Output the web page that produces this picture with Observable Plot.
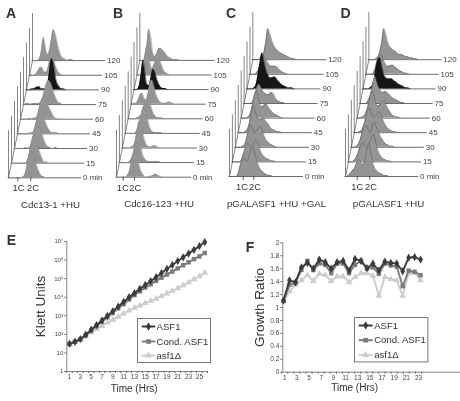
<!DOCTYPE html>
<html><head><meta charset="utf-8">
<script src="https://cdn.jsdelivr.net/npm/d3@7"></script>
<script src="https://cdn.jsdelivr.net/npm/@observablehq/plot@0.6"></script>
<style>
html,body{margin:0;padding:0;background:#fff}
#page{position:relative;width:460px;height:401px;overflow:hidden;filter:blur(.45px)}
#page svg{position:absolute;background:transparent;overflow:visible;max-width:none}
</style></head><body><div id="page"></div>
<script>
const FONT = '"Liberation Sans", Arial, sans-serif';
const times = ["0 min","15","30","45","60","75","90","105","120"];
const blackTrace = 6;

// Flow cytometry histograms: counts per DNA-content bin, time 0 first
const histA = [
 [0,0,0,0,0,0,0,1,5,15,24,27,24,17,10,5,2,1],
 [0,0,0,0,0,0,0,1,6,16,25,29,24,15,9,4,1,1],
 [0,0,0,0,0,1,0,1,5,13,20,22,21,16,10,5,2,1,0,0,1],
 [0,0,0,0,0,0,1,1,5,13,20,23,20,15,9,5,2,1,1,1],
 [0,0,0,0,1,0,1,1,4,12,19,22,20,15,11,7,3,1],
 [0,1,1,0,1,1,1,1,2,6,14,21,24,22,17,10,5,2,1],
 [0,0,1,1,2,3,3,1,1,1,5,18,31,27,13,6,3,1,1],
 [1,0,0,2,5,8,7,3,3,9,17,17,12,7,3,1],
 [0,0,0,2,10,23,14,6,10,22,31,26,17,9,4,2,1,0,1,1]
];
const histB = [
 [0,0,0,0,0,2,6,16,24,27,20,11,5,2,0,0,1,1,2,3,2,1],
 [0,0,0,0,0,2,6,15,26,28,19,9,4,2,1,1,1,1,1,1],
 [0,0,0,0,1,2,7,19,27,23,13,6,2,1,1,2,2,1],
 [0,0,0,0,0,2,6,14,23,28,21,12,5,2,1,1,1,1],
 [0,0,0,0,1,2,4,10,16,20,18,12,6,3,1,1,1],
 [0,1,1,4,9,11,6,4,11,21,24,18,10,5,2,1,1,1,2,2,1],
 [0,0,3,14,29,17,5,4,12,20,17,10,5,2,1,1],
 [0,0,1,11,26,30,13,6,10,15,17,14,9,4,2,1],
 [0,0,3,15,31,23,8,4,7,12,12,10,8,5,3,2,1,1,1]
];
const histC = [
 [0,0,0,0,4,12,17,19,15,18,26,29,24,17,11,7,5,3,2,1,1],
 [0,0,0,0,2,8,14,19,17,14,18,22,20,14,9,6,4,3,2,1,1],
 [0,0,0,1,2,8,16,23,19,14,16,19,20,17,11,7,5,3,2,1],
 [0,0,0,1,3,9,19,27,21,15,13,13,15,12,10,7,4,3,2,1,1],
 [0,0,0,1,4,12,22,27,20,13,11,13,14,11,8,6,4,3,2,1],
 [0,0,0,0,3,10,16,19,16,12,10,9,9,11,10,6,3,2,1,1],
 [0,0,0,1,4,14,26,36,28,19,14,11,11,12,11,8,6,4,3,2,1,1,1],
 [0,0,0,2,6,14,19,17,13,10,8,8,8,7,5,3,2,1],
 [0,0,0,1,3,7,18,31,26,19,14,11,9,7,6,5,4,3,2,1,1]
];
const histD = [
 [0,1,3,6,8,13,17,15,12,14,25,33,25,15,9,6,4,3,2,1,1],
 [0,0,1,3,7,13,18,20,16,14,19,25,27,21,13,8,5,3,2,1,1],
 [0,0,1,3,8,15,20,22,17,15,22,25,20,16,11,8,5,3,2,1,1],
 [0,0,1,2,6,13,21,25,19,15,17,19,21,17,12,8,5,3,2,1,1],
 [0,0,1,2,6,13,22,27,21,14,12,14,16,17,13,9,6,3,2,1,1],
 [0,0,0,1,5,11,21,27,21,15,12,11,12,11,9,7,5,4,3,2,1,1],
 [0,0,0,1,3,9,20,29,31,22,14,11,10,10,10,8,7,5,4,3,2,1,1],
 [0,0,0,1,5,13,18,20,15,11,8,8,9,9,7,6,4,3,2,1,1],
 [0,0,0,1,3,8,18,31,25,17,13,11,9,8,6,5,5,4,3,3,2,2,1,1]
];

const hoursE = [1,2,3,4,5,6,7,8,9,10,11,12,13,14,15,16,17,18,19,20,21,22,23,24,25,26];
const logKlettASF1 = [1.5,1.6,1.75,1.98,2.25,2.5,2.75,3.0,3.25,3.5,3.75,4.0,4.22,4.45,4.66,4.87,5.08,5.3,5.52,5.73,5.95,6.15,6.35,6.55,6.75,6.97];
const logKlettCond = [1.48,1.6,1.72,1.95,2.2,2.45,2.68,2.92,3.15,3.4,3.63,3.88,4.12,4.32,4.52,4.7,4.88,5.05,5.22,5.38,5.55,5.72,5.88,6.05,6.2,6.38];
const logKlettDel = [1.45,1.58,1.7,1.9,2.1,2.27,2.45,2.62,2.78,2.95,3.12,3.28,3.42,3.55,3.68,3.8,3.92,4.06,4.2,4.34,4.48,4.64,4.8,4.96,5.12,5.32];

const hoursF = [0.8,1.78,2.76,3.74,4.72,5.7,6.68,7.66,8.64,9.62,10.6,11.58,12.56,13.54,14.52,15.5,16.48,17.46,18.44,19.42,20.4,21.38,22.36,23.34];
const ratioASF1 = [1.11,1.42,1.39,1.62,1.69,1.6,1.74,1.7,1.6,1.7,1.72,1.57,1.75,1.72,1.61,1.68,1.57,1.71,1.69,1.68,1.56,1.77,1.78,1.74];
const ratioCond = [1.1,1.35,1.38,1.58,1.72,1.58,1.68,1.66,1.53,1.68,1.68,1.53,1.66,1.72,1.6,1.62,1.52,1.68,1.65,1.63,1.33,1.57,1.55,1.5];
const ratioDel = [1.1,1.25,1.35,1.42,1.5,1.41,1.52,1.5,1.41,1.48,1.48,1.39,1.47,1.53,1.53,1.49,1.18,1.47,1.44,1.42,1.18,1.53,1.54,1.42];

const seriesNames = ["ASF1","Cond. ASF1","asf1\u0394"];
const seriesColors = ["#3c3c3c","#7c7c7c","#cdcdcd"];
const seriesSymbols = ["diamond","square","triangle"];

const page = document.getElementById("page");
function place(svg,left,top){svg.style.left=left+"px";svg.style.top=top+"px";page.appendChild(svg);}

function histPanel(cfg){
  const W=130,H=215,L=8;
  const marks=[];
  const pts=cfg.data.map((_,i)=>({x:i*cfg.dx,y:i*cfg.step}));
  marks.push(Plot.line(pts,{x:"x",y:"y",stroke:"#555",strokeWidth:.7}));
  for(let i=cfg.data.length-1;i>=0;i--){
    const xo=i*cfg.dx,yo=i*cfg.step;
    const rows=[0,...cfg.data[i],0].map((v,b)=>({x:xo+(b-0.5)*2,base:yo,top:yo+v}));
    const dark=i===blackTrace;
    marks.push(Plot.ruleX([xo],{y1:yo,y2:yo+47,stroke:"#666",strokeWidth:.8}));
    marks.push(Plot.ruleY([yo],{x1:xo,x2:xo+cfg.len,stroke:"#444",strokeWidth:.8}));
    marks.push(Plot.areaY(rows,{x:"x",y1:"base",y2:"top",fill:dark?"#161616":"#949494",curve:"monotone-x"}));
    marks.push(Plot.lineY(rows,{x:"x",y:"top",stroke:dark?"#111":cfg.outline,strokeWidth:.5,curve:"monotone-x"}));
    marks.push(Plot.text([times[i]],{x:xo+cfg.len+1.5,y:yo,text:d=>d,textAnchor:"start",fontSize:8,fill:"#444"}));
  }
  marks.push(Plot.ruleX(cfg.cTicks,{y1:-4,y2:0,stroke:"#333",strokeWidth:.8}));
  marks.push(Plot.text(["1C","2C"],{x:cfg.cLabels,y:-10.5,text:d=>d,fontSize:9.3,fill:"#333"}));
  marks.push(Plot.text([cfg.title],{x:cfg.titleX,y:-27,text:d=>d,fontSize:9.7,fill:"#333"}));
  marks.push(Plot.text([cfg.letter],{x:cfg.letterX,y:cfg.base-13,text:d=>d,fontSize:14,fontWeight:"bold",fill:"#333",textAnchor:"start"}));
  const svg=Plot.plot({width:W,height:H,margin:0,
    x:{axis:null,domain:[-L,W-L],range:[0,W]},
    y:{axis:null,domain:[cfg.base-H,cfg.base],range:[H,0]},
    style:{fontFamily:FONT,background:"transparent"},marks});
  place(svg,cfg.x0-L,0);
}
histPanel({data:histA,x0:8,base:177.3,step:14.65,dx:3,len:73,cTicks:[9.3,22.3],cLabels:[10,24.5],title:"Cdc13-1 +HU",titleX:42,letter:"A",letterX:-2.5,outline:"#8a8a8a"});
histPanel({data:histB,x0:116.3,base:176.7,step:14.6,dx:2.92,len:75,cTicks:[6.7,18],cLabels:[6.2,18.8],title:"Cdc16-123 +HU",titleX:42.5,letter:"B",letterX:-3.5,outline:"#8a8a8a"});
histPanel({data:histC,x0:229,base:176,step:14.6,dx:2.92,len:74,cTicks:[13.7,24.3],cLabels:[12.5,25.5],title:"pGALASF1 +HU +GAL",titleX:47,letter:"C",letterX:-3.5,outline:"#555"});
histPanel({data:histD,x0:345,base:176,step:14.6,dx:2.92,len:73,cTicks:[11.7,24.3],cLabels:[11.7,25.5],title:"pGALASF1 +HU",titleX:43,letter:"D",letterX:-5,outline:"#555"});

function seriesMarks(xs,ysList,yf){
  const m=[];
  ysList.forEach((ys,s)=>{
    const rows=ys.map((v,i)=>({x:xs[i],y:yf(v)}));
    m.unshift(Plot.line(rows,{x:"x",y:"y",stroke:seriesColors[s],strokeWidth:1.9}),
              Plot.dot(rows,{x:"x",y:"y",fill:seriesColors[s],symbol:seriesSymbols[s],r:2.5}));
  });
  return m;
}
function legend(left,top,w,h,lineX,textX,rowY){
  const rows=seriesNames.map((n,i)=>({n,i}));
  const svg=Plot.plot({width:w,height:h,margin:0,
    x:{axis:null,domain:[0,w],range:[0,w]},
    y:{axis:null,domain:[0,h],range:[0,h]},
    style:{fontFamily:FONT,background:"transparent"},
    marks:[
      Plot.frame({fill:"#fff",stroke:"#777",strokeWidth:1}),
      ...rows.map(r=>Plot.line([[lineX[0],rowY[r.i]],[lineX[1],rowY[r.i]]],{stroke:seriesColors[r.i],strokeWidth:1.9})),
      ...rows.map(r=>Plot.dot([[(lineX[0]+lineX[1])/2,rowY[r.i]]],{fill:seriesColors[r.i],symbol:seriesSymbols[r.i],r:2.6})),
      Plot.text(rows,{x:textX,y:r=>rowY[r.i],text:"n",textAnchor:"start",fontSize:9.6,fill:"#333"})
    ]});
  place(svg,left,top);
}

// E
{
  const odd=hoursE.filter(h=>h%2===1);
  const edges=[...hoursE.map(h=>h-.5),26.5];
  const yTicks=[1,1e1,1e2,1e3,1e4,1e5,1e6,1e7];
  const labs={1:"1",10:"10",100:"10\u00b2",1000:"10\u00b3",1e4:"10\u2074",1e5:"10\u2075",1e6:"10\u2076",1e7:"10\u2077"};
  const svg=Plot.plot({width:230,height:176,marginLeft:66.3,marginRight:23,marginTop:16,marginBottom:30,
    x:{domain:[.5,26.5],axis:null},
    y:{type:"log",domain:[1,1e7],axis:null},
    style:{fontFamily:FONT,background:"transparent"},
    marks:[
      Plot.ruleX([.5],{stroke:"#666",strokeWidth:.8}),
      Plot.ruleY([1],{stroke:"#666",strokeWidth:.8}),
      Plot.axisY({ticks:yTicks,tickFormat:d=>labs[d],tickSize:2,tickPadding:1.5,fontSize:6,stroke:"#666",fill:"#444",label:null}),
      Plot.axisX({ticks:edges,tickFormat:()=>"",tickSize:2,stroke:"#666",label:null}),
      Plot.axisX({ticks:odd,tickFormat:d=>d,tickSize:0,tickPadding:3,fontSize:6.5,fill:"#444",label:null}),
      ...seriesMarks(hoursE,[logKlettASF1,logKlettCond,logKlettDel],v=>10**v),
      Plot.text(["Time (Hrs)"],{frameAnchor:"bottom",dy:20,dx:-3,text:d=>d,fontSize:10,fill:"#333"}),
      Plot.text(["Klett Units"],{frameAnchor:"left",textAnchor:"middle",dx:-26,rotate:-90,text:d=>d,fontSize:13.5,fill:"#333"}),
      Plot.text(["E"],{frameAnchor:"top-left",dx:-60,dy:-6,text:d=>d,fontSize:14,fontWeight:"bold",fill:"#333"})
    ]});
  place(svg,0,225);
  legend(137,318,73,44,[5,17],19,[8,23,37]);
}
// F
{
  const labels=[1,3,5,7,9,11,13,15,17,19,21,23];
  const edges=d3.range(0.5,24.5,1);
  const svg=Plot.plot({width:230,height:176,marginLeft:52.3,marginRight:0,marginTop:17.3,marginBottom:29.3,
    x:{domain:[.68,24.2],range:[52.3,52.3+143],axis:null},
    y:{domain:[0,2],axis:null},
    style:{fontFamily:FONT,background:"transparent"},
    marks:[
      Plot.ruleX([.68],{stroke:"#666",strokeWidth:.8}),
      Plot.ruleY([0],{stroke:"#666",strokeWidth:.8}),
      Plot.axisY({ticks:d3.range(0,2.01,.2),tickFormat:d=>Math.abs(d%1)<1e-6||Math.abs(d%1-1)<1e-6?d.toFixed(0):d.toFixed(1),tickSize:2,tickPadding:1.5,fontSize:6.5,stroke:"#666",fill:"#444",label:null,anchor:"left"}),
      Plot.axisX({ticks:edges,tickFormat:()=>"",tickSize:2,stroke:"#666",label:null,anchor:"bottom"}),
      Plot.axisX({ticks:labels,tickFormat:d=>d,tickSize:0,tickPadding:3,fontSize:6.5,fill:"#444",label:null,anchor:"bottom"}),
      ...seriesMarks(hoursF,[ratioASF1,ratioCond,ratioDel],v=>v),
      Plot.text(["Time (Hrs)"],{frameAnchor:"bottom",dy:19,dx:-17,text:d=>d,fontSize:10,fill:"#333"}),
      Plot.text(["Growth Ratio"],{frameAnchor:"left",textAnchor:"middle",dx:-23,rotate:-90,text:d=>d,fontSize:13.5,fill:"#333"}),
      Plot.text(["F"],{frameAnchor:"top-left",textAnchor:"start",dx:-37,dy:-1,text:d=>d,fontSize:14,fontWeight:"bold",fill:"#333"})
    ]});
  place(svg,230,225);
  legend(354.3,317.3,73.4,44.4,[5,17.4],19.7,[8,22.7,37.4]);
}
</script></body></html>
